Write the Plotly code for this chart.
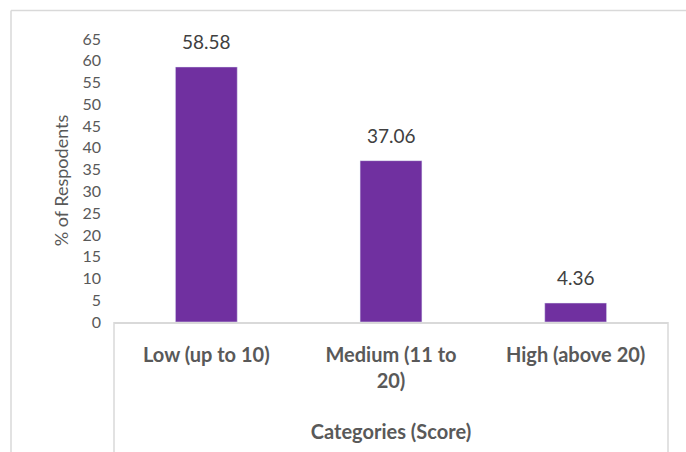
import plotly.graph_objects as go

categories = ["Low (up to 10)", "Medium (11 to<br>20)", "High (above 20)"]
values = [58.58, 37.06, 4.36]
value_labels = ["58.58", "37.06", "4.36"]
y_ticks = list(range(0, 70, 5))

W, H = 686, 452
ML, MR, MT, MB = 114, 18, 39, 130
pw = W - ML - MR
ph = H - MT - MB

fig = go.Figure()
fig.add_trace(go.Bar(
    x=categories, y=values, marker_color="#7030A0", width=0.335,
    hoverinfo="skip",
))
for c, v, t in zip(categories, values, value_labels):
    fig.add_annotation(x=c, y=v, text=t, showarrow=False, yanchor="bottom", yshift=12,
                       font=dict(size=19, color="#404040", family="Lato"))

grey = "#d9d9d9"
def px_x(px):
    return (px - ML) / pw
def px_y(py):
    return (H - MB - py) / ph

shapes = [
    dict(type="line", xref="paper", yref="paper", x0=px_x(11), x1=px_x(686), y0=px_y(10.5), y1=px_y(10.5),
         line=dict(color=grey, width=1.5)),
    dict(type="line", xref="paper", yref="paper", x0=px_x(11), x1=px_x(11), y0=px_y(10.5), y1=px_y(452),
         line=dict(color=grey, width=1.5)),
    dict(type="line", xref="paper", yref="paper", x0=0, x1=0, y0=0, y1=px_y(452),
         line=dict(color=grey, width=1.5)),
    dict(type="line", xref="paper", yref="paper", x0=1, x1=1, y0=0, y1=px_y(452),
         line=dict(color=grey, width=1.5)),
]

fig.update_layout(
    width=W, height=H,
    margin=dict(l=ML, r=MR, t=MT, b=MB),
    paper_bgcolor="white", plot_bgcolor="white",
    showlegend=False,
    shapes=shapes,
    font=dict(family="Lato", color="#595959"),
    xaxis=dict(
        showline=True, linecolor=grey, linewidth=1.5,
        tickfont=dict(size=20, color="#595959", family="Lato"),
        ticks="", range=[-0.5, 2.5], ticklabelstandoff=14,
        title=dict(text="<b>Categories (Score)</b>", font=dict(size=20, color="#595959"), standoff=34),
    ),
    yaxis=dict(
        range=[0, 65], tickvals=y_ticks, showgrid=False, zeroline=False, showline=False,
        tickfont=dict(size=16, color="#595959"), ticks="", ticklabelstandoff=12,
        title=dict(text="% of Respodents", font=dict(size=18, color="#595959"), standoff=9),
    ),
)
fig.update_xaxes(tickvals=categories, ticktext=["<b>" + c + "</b>" for c in categories])

fig.write_html("out.html")
